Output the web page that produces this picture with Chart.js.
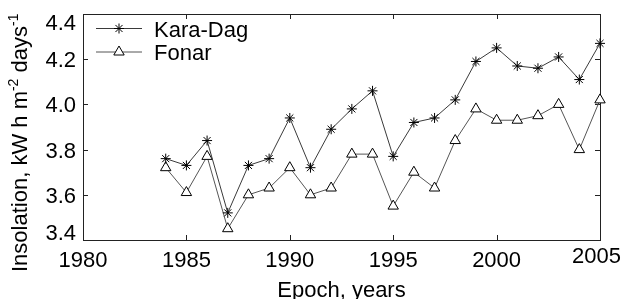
<!DOCTYPE html>
<html>
<head>
<meta charset="utf-8">
<script src="https://cdn.jsdelivr.net/npm/chart.js@4.4.1/dist/chart.umd.min.js"></script>
<style>
  html, body { margin: 0; padding: 0; background: #fff; }
  canvas { display: block; }
</style>
</head>
<body>
<canvas id="insolationChart" width="622" height="299"></canvas>
<script>
// data
const years = [1984, 1985, 1986, 1987, 1988, 1989, 1990, 1991, 1992, 1993, 1994,
               1995, 1996, 1997, 1998, 1999, 2000, 2001, 2002, 2003, 2004, 2005];
const karaDag = [3.76, 3.73, 3.84, 3.52, 3.73, 3.76, 3.94, 3.72, 3.89, 3.98, 4.06,
                 3.77, 3.92, 3.94, 4.02, 4.19, 4.25, 4.17, 4.16, 4.21, 4.11, 4.27];
const fonar = [3.72, 3.61, 3.77, 3.45, 3.60, 3.63, 3.72, 3.60, 3.63, 3.78, 3.78,
               3.55, 3.70, 3.63, 3.84, 3.98, 3.93, 3.93, 3.95, 4.00, 3.80, 4.02];
const xTicks = [1980, 1985, 1990, 1995, 2000, 2005];
const yTicks = [3.4, 3.6, 3.8, 4.0, 4.2, 4.4];

const FONT = "'Liberation Sans', Arial, Helvetica, sans-serif";

function toPoints(values) {
  return years.map((yr, i) => ({ x: yr, y: values[i] }));
}

// marker drawing, uses Chart.helpers when it is there
function marker(ctx, style, r, x, y) {
  if (Chart.helpers && Chart.helpers.drawPoint) {
    Chart.helpers.drawPoint(ctx, { pointStyle: style, radius: r, borderWidth: 1, rotation: 0 }, x, y);
    return;
  }
  ctx.beginPath();
  if (style === 'triangle') {
    for (let k = 0; k < 3; k++) {
      const a = k * 2 * Math.PI / 3;
      ctx.lineTo(x + Math.sin(a) * r, y - Math.cos(a) * r);
    }
    ctx.closePath();
    ctx.fill();
  } else {
    for (let k = 0; k < 4; k++) {
      const a = k * Math.PI / 4;
      ctx.moveTo(x - Math.cos(a) * r, y - Math.sin(a) * r);
      ctx.lineTo(x + Math.cos(a) * r, y + Math.sin(a) * r);
    }
  }
  ctx.stroke();
}

// box with inward ticks, tick labels, axis titles and legend
const framePlugin = {
  id: 'frame',
  beforeDatasetsDraw(chart) {
    const { ctx, chartArea: a, scales: { x, y } } = chart;
    ctx.save();
    ctx.strokeStyle = '#222';
    ctx.lineWidth = 1;
    ctx.strokeRect(a.left + 0.5, a.top + 0.5, a.right - a.left, a.bottom - a.top);
    ctx.beginPath();
    x.ticks.forEach(t => {
      const px = Math.round(x.getPixelForValue(t.value)) + 0.5;
      ctx.moveTo(px, a.bottom); ctx.lineTo(px, a.bottom - 5);
      ctx.moveTo(px, a.top); ctx.lineTo(px, a.top + 5);
    });
    y.ticks.forEach(t => {
      const py = Math.round(y.getPixelForValue(t.value)) + 0.5;
      ctx.moveTo(a.left, py); ctx.lineTo(a.left + 5, py);
      ctx.moveTo(a.right, py); ctx.lineTo(a.right - 5, py);
    });
    ctx.stroke();
    ctx.restore();
  },
  afterDraw(chart) {
    const { ctx, chartArea: a, scales: { x, y } } = chart;
    ctx.save();
    ctx.fillStyle = '#000';
    ctx.font = '22px ' + FONT;
    ctx.textBaseline = 'alphabetic';

    // y tick labels, end labels kept inside the axis
    ctx.textAlign = 'right';
    y.ticks.forEach(t => {
      let base = y.getPixelForValue(t.value) + 8;
      base = Math.max(a.top + 15.5, Math.min(a.bottom, base));
      ctx.fillText(t.value.toFixed(1), a.left - 7, base);
    });

    // x tick labels
    ctx.textAlign = 'center';
    x.ticks.forEach(t => {
      const label = String(t.value);
      const w = ctx.measureText(label).width;
      let cx = x.getPixelForValue(t.value);
      let base = a.bottom + 27;
      if (cx + w / 2 > chart.width - 1) { cx = chart.width - 1 - w / 2; base -= 4; }
      ctx.fillText(label, cx, base);
    });

    // x title
    ctx.fillText('Epoch, years', (a.left + a.right) / 2, 297);

    // y title with superscripts
    ctx.save();
    ctx.translate(27, 272);
    ctx.rotate(-Math.PI / 2);
    ctx.textAlign = 'left';
    const parts = [['Insolation, kW h m', 22, 0], ['-2', 14, -9], [' days', 22, 0], ['-1', 14, -9]];
    let cur = 0;
    parts.forEach(([txt, size, dy]) => {
      ctx.font = size + 'px ' + FONT;
      ctx.fillText(txt, cur, dy);
      cur += ctx.measureText(txt).width;
    });
    ctx.restore();

    // legend: line + marker + label
    chart.data.datasets.forEach((ds, i) => {
      const ly = 28.5 + i * 23.5;
      ctx.strokeStyle = ds.borderColor;
      ctx.lineWidth = 1;
      ctx.beginPath();
      ctx.moveTo(96, ly); ctx.lineTo(142, ly);
      ctx.stroke();
      ctx.strokeStyle = ds.pointBorderColor;
      ctx.fillStyle = ds.pointBackgroundColor;
      marker(ctx, ds.pointStyle, ds.pointRadius, 119, ly);
      ctx.fillStyle = '#000';
      ctx.font = '22px ' + FONT;
      ctx.textAlign = 'left';
      ctx.fillText(ds.label, 154, ly + 8);
    });
    ctx.restore();
  }
};

new Chart(document.getElementById('insolationChart'), {
  type: 'line',
  data: {
    datasets: [{
      label: 'Kara-Dag',
      data: toPoints(karaDag),
      borderColor: '#3a3a3a',
      borderWidth: 1,
      pointStyle: 'star',
      pointRadius: 5,
      pointBorderColor: '#000',
      pointBackgroundColor: '#000',
      pointBorderWidth: 1,
      tension: 0,
      clip: false
    }, {
      label: 'Fonar',
      data: toPoints(fonar),
      borderColor: '#555',
      borderWidth: 1,
      pointStyle: 'triangle',
      pointRadius: 6,
      pointBorderColor: '#000',
      pointBackgroundColor: '#fff',
      pointBorderWidth: 1,
      tension: 0,
      clip: false
    }]
  },
  options: {
    responsive: false,
    animation: false,
    devicePixelRatio: 1,
    layout: { padding: { top: 14, right: 22, left: 0, bottom: 0 } },
    plugins: { legend: { display: false }, tooltip: { enabled: false } },
    scales: {
      x: {
        type: 'linear',
        min: 1980,
        max: 2005,
        afterBuildTicks: s => { s.ticks = xTicks.map(v => ({ value: v })); },
        afterFit: s => { s.height = 59; },
        ticks: { display: false },
        grid: { display: false },
        border: { display: false }
      },
      y: {
        min: 3.4,
        max: 4.4,
        afterBuildTicks: s => { s.ticks = yTicks.map(v => ({ value: v })); },
        afterFit: s => { s.width = 83; },
        ticks: { display: false },
        grid: { display: false },
        border: { display: false }
      }
    }
  },
  plugins: [framePlugin]
});
</script>
</body>
</html>
